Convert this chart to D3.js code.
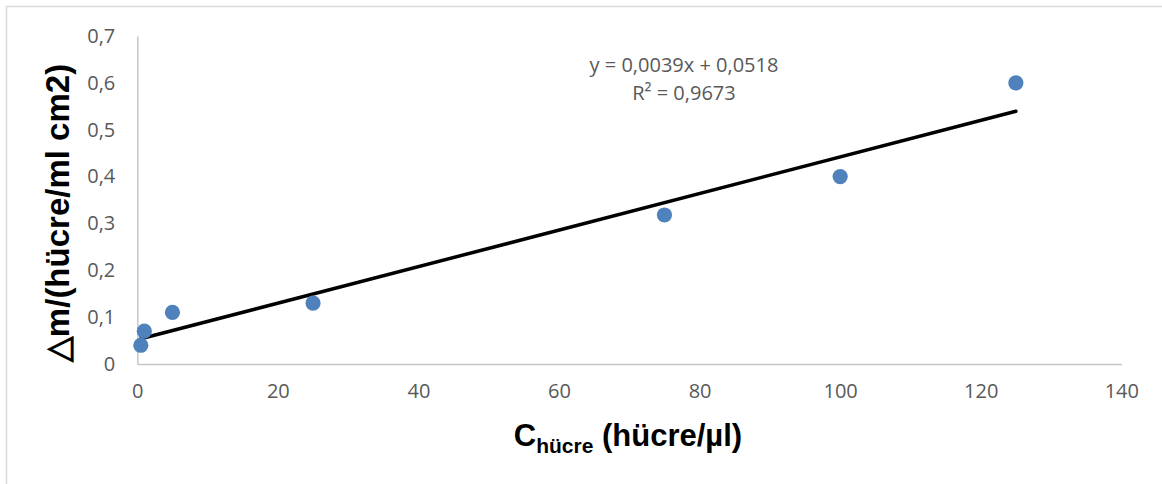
<!DOCTYPE html>
<html>
<head>
<meta charset="utf-8">
<script src="https://cdn.jsdelivr.net/npm/d3@7"></script>
<style>
  html, body { margin: 0; padding: 0; background: #fff; }
  svg { display: block; }
</style>
</head>
<body>
<svg id="chart" width="1162" height="484"></svg>
<script>
// Cell concentration (cells/µl) and mass change per cell
const concentrations = [0.5, 1, 5, 25, 75, 100, 125];
const deltaM = [0.04, 0.07, 0.11, 0.13, 0.318, 0.40, 0.60];

// Axis ticks
const xTicks = [0, 20, 40, 60, 80, 100, 120, 140];
const yTicks = [0, 0.1, 0.2, 0.3, 0.4, 0.5, 0.6, 0.7];

// Linear trendline as reported
const fitSlope = 0.0039;
const fitIntercept = 0.0518;
const fitR2 = 0.9673;

const W = 1162, H = 484;
const svg = d3.select("#chart");

const trLocale = d3.formatLocale({ decimal: ",", thousands: ".", grouping: [3], currency: ["", " ₺"] });
const fmtTick = trLocale.format(".1~f");
const fmt4 = trLocale.format(".4f");

// Chart frame
svg.append("rect")
  .attr("x", 6.5).attr("y", 6.5)
  .attr("width", W + 20).attr("height", H + 20)
  .attr("fill", "#fff")
  .attr("stroke", "#d9d9d9").attr("stroke-width", 1.5);

const x = d3.scaleLinear().domain([0, 140]).range([137.3, 1121.3]);
const y = d3.scaleLinear().domain([0, 0.7]).range([364, 36]);

const tickFont = "'Open Sans', 'Liberation Sans', sans-serif";

// X axis
const xAxis = svg.append("g")
  .attr("transform", `translate(0,${y(0)})`)
  .call(d3.axisBottom(x).tickValues(xTicks).tickSize(0).tickPadding(20).tickFormat(d => fmtTick(d)));
xAxis.select(".domain").attr("stroke", "#c6c6c6").attr("stroke-width", 1.5);
xAxis.selectAll("text")
  .attr("fill", "#595959")
  .style("font-family", tickFont)
  .style("font-size", "20px");

// Y axis
const yAxis = svg.append("g")
  .attr("transform", `translate(${x(0)},0)`)
  .call(d3.axisLeft(y).tickValues(yTicks).tickSize(0).tickPadding(22).tickFormat(d => fmtTick(d)));
yAxis.select(".domain").attr("stroke", "#c6c6c6").attr("stroke-width", 1.5);
yAxis.selectAll("text")
  .attr("fill", "#595959")
  .style("font-family", tickFont)
  .style("font-size", "20px");

// Trendline over the data range
const xMin = d3.min(concentrations), xMax = d3.max(concentrations);
const fit = v => fitSlope * v + fitIntercept;
svg.append("line")
  .attr("x1", x(xMin)).attr("y1", y(fit(xMin)))
  .attr("x2", x(xMax)).attr("y2", y(fit(xMax)))
  .attr("stroke", "#000").attr("stroke-width", 3.5)
  .attr("stroke-linecap", "round");

// Data points
svg.append("g").selectAll("circle")
  .data(concentrations.map((c, i) => ({ c, m: deltaM[i] })))
  .join("circle")
  .attr("cx", d => x(d.c))
  .attr("cy", d => y(d.m))
  .attr("r", 7.6)
  .attr("fill", "#4f81bd");

// Trendline equation
const eq = svg.append("g")
  .attr("fill", "#595959")
  .style("font-family", tickFont)
  .style("font-size", "20px")
  .attr("text-anchor", "middle");
eq.append("text").attr("x", 684).attr("y", 72)
  .text(`y = ${fmt4(fitSlope)}x + ${fmt4(fitIntercept)}`);
eq.append("text").attr("x", 684).attr("y", 100)
  .text(`R² = ${fmt4(fitR2)}`);

// Axis titles
const titleFont = "'Liberation Sans', Arial, sans-serif";
const xTitle = svg.append("text")
  .attr("x", 628).attr("y", 446)
  .attr("text-anchor", "middle")
  .style("font-family", titleFont)
  .style("font-weight", "bold")
  .style("font-size", "31px")
  .attr("fill", "#000");
xTitle.append("tspan").text("C");
xTitle.append("tspan").attr("dy", 7).style("font-size", "21px").text("hücre");
xTitle.append("tspan").attr("dy", -7).text(" (hücre/µl)");

svg.append("text")
  .attr("transform", `translate(69,213) rotate(-90)`)
  .attr("text-anchor", "middle")
  .style("font-family", titleFont)
  .style("font-weight", "bold")
  .style("font-size", "33px")
  .attr("fill", "#000")
  .text("△m/(hücre/ml cm2)");
</script>
</body>
</html>
